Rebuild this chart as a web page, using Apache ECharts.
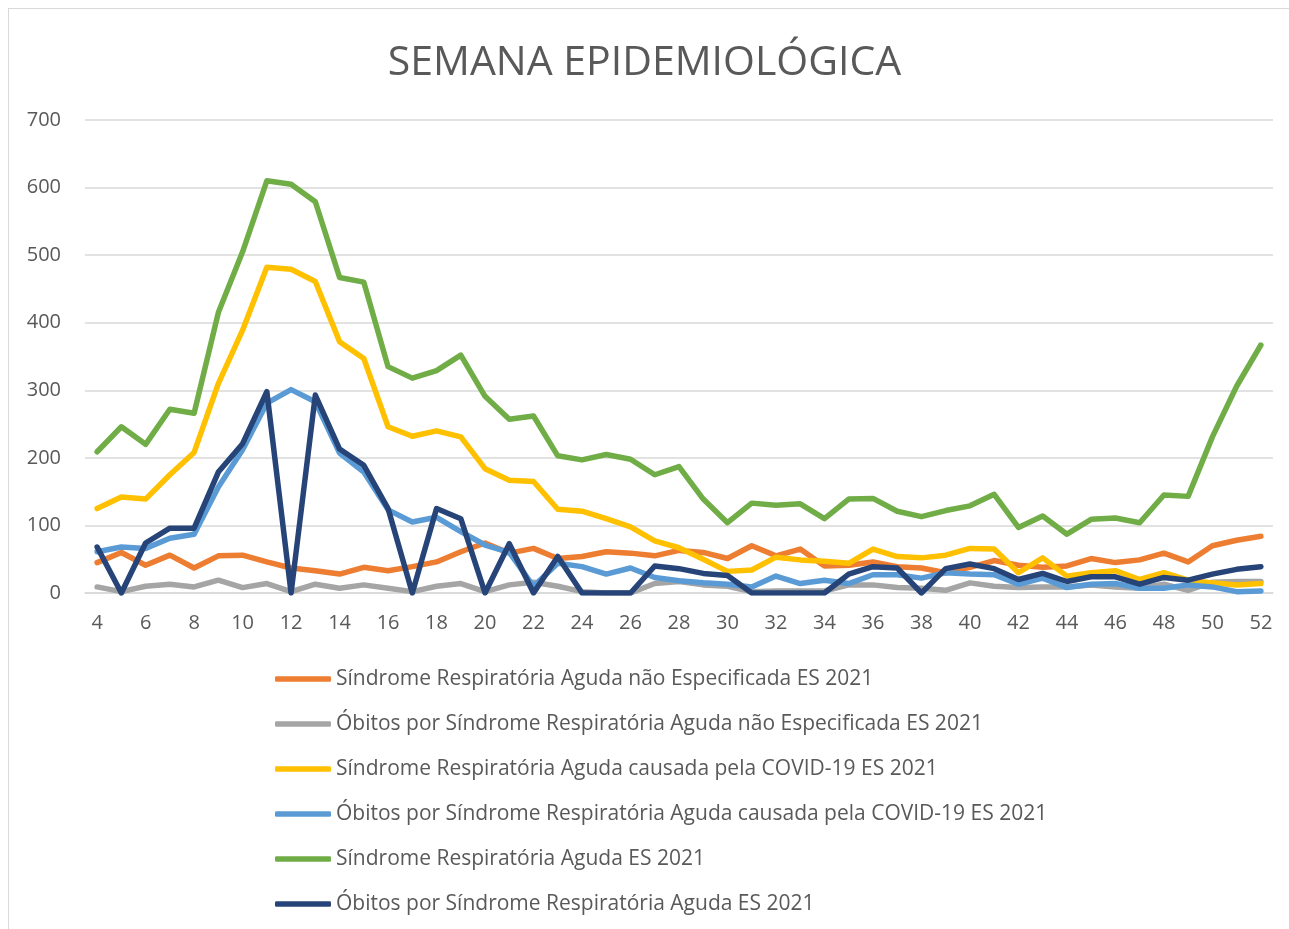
<!DOCTYPE html>
<html>
<head>
<meta charset="utf-8">
<script src="https://cdn.jsdelivr.net/npm/echarts@6/dist/echarts.min.js"></script>
<style>
  html, body { margin: 0; padding: 0; background: #fff; }
  #frame { position: absolute; left: 8px; top: 8px; right: -2px; bottom: -2px; border: 1px solid #d9d9d9; }
  #main { position: absolute; left: 0; top: 0; width: 1289px; height: 929px; }
</style>
</head>
<body>
<div id="frame"></div>
<div id="main"></div>
<script>
// semanas epidemiológicas 4..52
const semanas = ['4','5','6','7','8','9','10','11','12','13','14','15','16','17','18','19','20','21','22','23','24','25','26','27','28','29','30','31','32','33','34','35','36','37','38','39','40','41','42','43','44','45','46','47','48','49','50','51','52']

const sragNaoEspecificada = [45,60,41,56,37,55,56,46,37,33,28,38,33,39,46,61,74,59,66,51,54,61,59,55,63,60,51,70,55,65,40,41,46,39,37,30,38,48,41,38,40,51,45,49,59,46,70,78,84]
const obitosNaoEspecificada = [9,2,10,13,9,19,8,14,2,13,7,12,7,2,10,14,2,12,16,10,2,0,0,14,17,12,10,2,3,3,3,12,12,8,7,4,15,10,8,9,9,12,9,7,13,4,16,17,17]
const sragCovid = [125,142,139,175,208,310,389,482,479,461,372,347,246,232,240,231,184,167,165,124,121,110,98,77,67,50,32,34,53,49,47,44,65,54,52,56,66,65,30,52,25,30,33,20,30,19,15,12,14]
const obitosCovid = [61,68,66,81,87,157,212,281,301,283,207,179,123,105,112,91,71,60,10,44,39,28,37,23,18,15,13,9,25,14,19,14,27,27,22,30,28,27,13,22,8,13,14,7,7,12,9,2,3]
const sragTotal = [209,246,220,272,266,415,505,610,605,579,467,460,335,318,329,352,291,257,262,203,197,205,198,175,187,139,104,133,130,132,110,139,140,121,113,122,129,146,97,114,87,109,111,104,145,143,231,306,367]
const obitosTotal = [68,0,74,96,96,179,221,298,0,293,213,189,125,0,125,110,0,73,0,54,0,0,0,40,36,29,26,0,0,0,0,28,39,37,0,36,43,36,20,29,17,24,24,13,23,19,28,35,39]

const nomes = [
  'Síndrome Respiratória Aguda não Especificada ES 2021',
  'Óbitos por Síndrome Respiratória Aguda não Especificada ES 2021',
  'Síndrome Respiratória Aguda causada pela COVID-19 ES 2021',
  'Óbitos por Síndrome Respiratória Aguda causada pela COVID-19 ES 2021',
  'Síndrome Respiratória Aguda ES 2021',
  'Óbitos por Síndrome Respiratória Aguda ES 2021'
]
const cores = ['#ED7D31', '#A5A5A5', '#FFC000', '#5B9BD5', '#70AD47', '#264478']
const dados = [sragNaoEspecificada, obitosNaoEspecificada, sragCovid, obitosCovid, sragTotal, obitosTotal]

const fonte = '"Open Sans", sans-serif'
const chart = echarts.init(document.getElementById('main'))

const option = {
  animation: false,
  title: {
    text: 'SEMANA EPIDEMIOLÓGICA',
    left: 'center',
    top: 38,
    textStyle: { fontFamily: fonte, fontSize: 41, fontWeight: 'normal', color: '#595959' }
  },
  legend: {
    orient: 'vertical',
    left: 275,
    top: 666,
    padding: 0,
    itemWidth: 56,
    itemHeight: 5.5,
    itemGap: 19,
    icon: 'roundRect',
    data: nomes,
    textStyle: { fontFamily: fonte, fontSize: 21, color: '#595959', lineHeight: 26 }
  },
  grid: { left: 85, right: 16, top: 120, bottom: 336 },
  xAxis: {
    type: 'category',
    data: semanas,
    boundaryGap: true,
    axisLine: { lineStyle: { color: '#d9d9d9', width: 1.5 } },
    axisTick: { show: false },
    axisLabel: { interval: 1, color: '#595959', fontFamily: fonte, fontSize: 20, margin: 20 }
  },
  yAxis: {
    type: 'value',
    min: 0,
    max: 700,
    interval: 100,
    axisLine: { show: false },
    axisTick: { show: false },
    axisLabel: { color: '#595959', fontFamily: fonte, fontSize: 20, margin: 24 },
    splitLine: { lineStyle: { color: '#d9d9d9', width: 1.5 } }
  },
  series: dados.map((d, i) => ({
    name: nomes[i],
    type: 'line',
    data: d,
    symbol: 'none',
    color: cores[i],
    lineStyle: { width: 5.5, color: cores[i], join: 'round', cap: 'round' }
  }))
}

chart.setOption(option)
</script>
</body>
</html>
